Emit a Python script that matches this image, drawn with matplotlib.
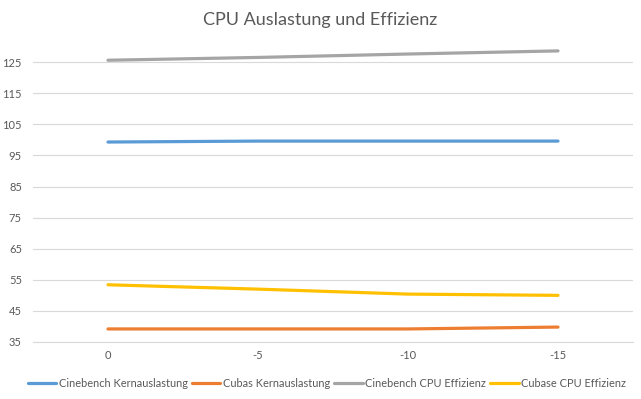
import matplotlib.pyplot as plt

categories = ['0', '-5', '-10', '-15']
cinebench_kern = [99.3, 99.6, 99.6, 99.6]
cubas_kern = [39.2, 39.2, 39.2, 39.8]
cinebench_eff = [125.6, 126.5, 127.6, 128.6]
cubase_eff = [53.4, 52.0, 50.4, 50.0]

series = [
    ("Cinebench Kernauslastung", cinebench_kern, "#5B9BD5"),
    ("Cubas Kernauslastung", cubas_kern, "#ED7D31"),
    ("Cinebench CPU Effizienz", cinebench_eff, "#A5A5A5"),
    ("Cubase CPU Effizienz", cubase_eff, "#FFC000"),
]

plt.rcParams['font.family'] = ['Lato', 'DejaVu Sans']
txt = '#595959'

fig = plt.figure(figsize=(6.41, 3.99), dpi=100)
ax = fig.add_axes([33 / 641, 1 - 342 / 399, 600 / 641, 311 / 399])

x = range(len(categories))
for name, vals, col in series:
    ax.plot(x, vals, color=col, lw=2.3, label=name, solid_capstyle='round')

ax.set_xlim(-0.5, 3.5)
ax.set_ylim(35, 135)
ax.set_yticks(range(35, 126, 10))
ax.set_xticks(list(x))
ax.set_xticklabels(categories)
ax.tick_params(length=0, labelsize=8, colors=txt, pad=6)
ax.tick_params(axis='y', pad=8)
ax.grid(axis='y', color='#D9D9D9', lw=0.8)
ax.set_axisbelow(True)
for s in ax.spines.values():
    s.set_visible(False)
ax.spines['bottom'].set_visible(True)
ax.spines['bottom'].set_color('#D9D9D9')

fig.suptitle('CPU Auslastung und Effizienz', y=0.97, fontsize=13, color=txt)
fig.legend(loc='lower center', bbox_to_anchor=(0.51, 0.0), ncol=4, frameon=False,
           fontsize=7.9, labelcolor=txt, handlelength=2.6, handletextpad=0.2,
           columnspacing=0.4)

fig.savefig('out.png', dpi=100)
